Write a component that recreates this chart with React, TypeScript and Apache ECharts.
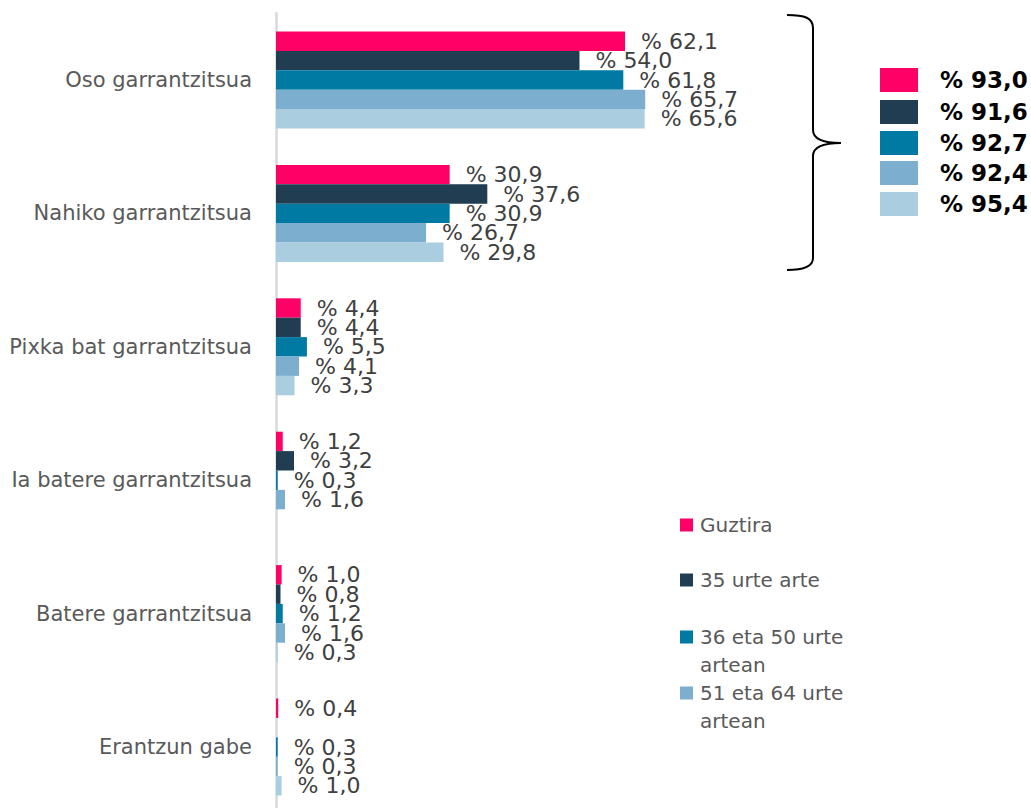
import React, { useEffect, useRef } from "react";
import * as echarts from "echarts";

const categories = [
  "Oso garrantzitsua",
  "Nahiko garrantzitsua",
  "Pixka bat garrantzitsua",
  "Ia batere garrantzitsua",
  "Batere garrantzitsua",
  "Erantzun gabe",
];
const seriesNames = [
  "Guztira",
  "35 urte arte",
  "36 eta 50 urte artean",
  "51 eta 64 urte artean",
  "65 urte eta gehiago",
];
const guztira = [62.1, 30.9, 4.4, 1.2, 1.0, 0.4];
const urte35 = [54.0, 37.6, 4.4, 3.2, 0.8, null];
const urte36_50 = [61.8, 30.9, 5.5, 0.3, 1.2, 0.3];
const urte51_64 = [65.7, 26.7, 4.1, 1.6, 1.6, 0.3];
const urte65 = [65.6, 29.8, 3.3, null, 0.3, 1.0];
const legendShown = [
  "Guztira",
  "35 urte arte",
  "36 eta 50 urte\nartean",
  "51 eta 64 urte\nartean",
];

const colors = ["#FF0066", "#213D51", "#0079A3", "#7CAECF", "#ABCDE0"];
const allSeries = [guztira, urte35, urte36_50, urte51_64, urte65];

const fmt = (v: number) => "% " + v.toFixed(1).replace(".", ",");

const braceD =
  "M787,15 C805,15 813,18 813,28 L813,130 C813,138 820,143 841,143 C820,143 813,148 813,156 L813,258 C813,266 805,270 787,270";

let registered = false;

export default function App() {
  const ref = useRef<HTMLDivElement>(null);
  useEffect(() => {
    if (!ref.current) return;
    if (!registered) {
      echarts.graphic.registerShape("brace", echarts.graphic.extendPath(braceD, {}));
      registered = true;
    }
    const chart = echarts.init(ref.current, null, { renderer: "svg" });
    const font = "DejaVu Sans";
    const totals = allSeries.map((s) => (s[0] as number) + (s[1] as number));
    const graphics: any[] = [
      {
        type: "brace",
        x: 0,
        y: 0,
        style: { stroke: "#000", fill: "none", lineWidth: 2 },
      },
    ];
    const boxTops = [68, 100, 131, 161, 192];
    totals.forEach((t, i) => {
      graphics.push({
        type: "rect",
        shape: { x: 880, y: boxTops[i], width: 38, height: 24 },
        style: { fill: colors[i] },
      });
      graphics.push({
        type: "text",
        x: 940,
        y: boxTops[i] + 12,
        style: {
          text: fmt(t),
          fontFamily: font,
          fontWeight: "bold",
          fontSize: 23,
          fill: "#000",
          verticalAlign: "middle",
        },
      });
    });
    const legendCenters = [525, 580, 637, 693];
    legendShown.forEach((name, i) => {
      graphics.push({
        type: "rect",
        shape: { x: 680, y: legendCenters[i] - 6.5, width: 13, height: 13 },
        style: { fill: colors[i] },
      });
      graphics.push({
        type: "text",
        x: 700,
        y: legendCenters[i] - 14,
        style: {
          text: name,
          fontFamily: font,
          fontSize: 20,
          lineHeight: 28,
          fill: "#595959",
          verticalAlign: "top",
        },
      });
    });

    chart.setOption({
      animation: false,
      textStyle: { fontFamily: font },
      grid: { left: 276, top: 13.3, width: 562, height: 800.4, containLabel: false },
      xAxis: {
        type: "value",
        min: 0,
        max: 100,
        show: false,
      },
      yAxis: {
        type: "category",
        data: categories,
        inverse: true,
        axisTick: { show: false },
        axisLine: { show: true, lineStyle: { color: "#D9D9D9", width: 2.5 } },
        axisLabel: { color: "#595959", fontSize: 21, margin: 24, fontFamily: font },
      },
      series: allSeries.map((d, i) => ({
        type: "bar",
        name: seriesNames[i],
        data: d,
        barWidth: 19.4,
        barGap: "0%",
        itemStyle: { color: colors[i] },
        label: {
          show: true,
          position: "right",
          distance: 16,
          color: "#404040",
          fontSize: 22,
          fontFamily: font,
          formatter: (p: any) => (p.value == null ? "" : fmt(p.value)),
        },
      })),
      graphic: graphics,
    });
    return () => chart.dispose();
  }, []);
  return (
    <div
      style={{ position: "fixed", left: 0, top: 0, width: 1031, height: 808, overflow: "hidden", background: "#fff" }}
    >
      <div ref={ref} style={{ width: 1031, height: 840 }} />
    </div>
  );
}
